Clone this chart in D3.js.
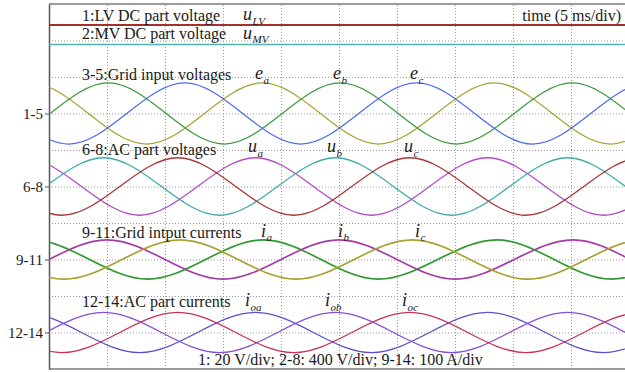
<!DOCTYPE html>
<html>
<head>
<meta charset="utf-8">
<script src="https://cdn.jsdelivr.net/npm/d3@7"></script>
<style>
  body { margin: 0; background: #fff; }
  svg { display: block; font-family: "Liberation Serif", "Times New Roman", serif; }
</style>
</head>
<body>
<div id="chart"></div>
<script>
// scope grid: 10 x 10 divisions, 5 ms/div
const gridTimes = [0, 5, 10, 15, 20, 25, 30, 35, 40, 45, 50];
const gridDivs = [-5, -4, -3, -2, -1, 0, 1, 2, 3, 4, 5];
const groupLabels = ["1-5", "6-8", "9-11", "12-14"];
const groupOffsets = [2, 0, -2, -4]; // channel offset in div

// DC levels
const uLV = 48.5; // V, 20 V/div
const uMV = 755;  // V, 400 V/div

// peaks / troughs: [ms, value]
const e_a = [[-11.6, -335], [-1.6, 335], [8.4, -335], [18.4, 335], [28.4, -335], [38.4, 335], [48.4, -335], [58.4, 335], [68.4, -335]];
const e_b = [[-14.9, 335], [-4.9, -335], [5.1, 335], [15.1, -335], [25.1, 335], [35.1, -335], [45.1, 335], [55.1, -335], [65.1, 335]];
const e_c = [[-18.3, -335], [-8.3, 335], [1.7, -335], [11.7, 335], [21.7, -335], [31.7, 335], [41.7, -335], [51.7, 335], [61.7, -335]];

const u_a = [[-12.2, -315], [-2.2, 315], [7.8, -315], [17.8, 315], [27.8, -315], [37.8, 315], [47.8, -315], [57.8, 315], [67.8, -315]];
const u_b = [[-15.3, 315], [-5.3, -315], [4.7, 315], [14.7, -315], [24.7, 315], [34.7, -315], [44.7, 315], [54.7, -315], [64.7, 315]];
const u_c = [[-18.9, -315], [-8.9, 315], [1.1, -315], [11.1, 315], [21.1, -315], [31.1, 315], [41.1, -315], [51.1, 315], [61.1, -315]];

const i_a = [[-11.5, -54], [-1.5, 54], [8.5, -54], [18.5, 54], [28.4, -54], [38.6, 54], [48.5, -54], [58.5, 54], [68.5, -54]];
const i_b = [[-15, 54], [-5, -54], [5, 54], [15, -54], [25, 54], [35, -54], [45.2, 54], [55, -54], [65, 54]];
const i_c = [[-18.7, -54], [-8.7, 54], [1.3, -54], [11.3, 54], [21.3, -54], [31.3, 54], [41.3, -54], [51.3, 54], [61.3, -54]];

const i_oa = [[-12.2, -55], [-2.2, 55], [7.8, -55], [17.8, 55], [27.8, -55], [37.8, 55], [47.8, -55], [57.8, 55], [67.8, -55]];
const i_ob = [[-15.3, 55], [-5.3, -55], [4.7, 55], [14.7, -55], [24.7, 55], [34.7, -55], [44.7, 55], [54.7, -55], [64.7, 55]];
const i_oc = [[-18.9, -55], [-8.9, 55], [1.1, -55], [11.1, 55], [21.1, -55], [31.1, 55], [41.1, -55], [51.1, 55], [61.1, -55]];

const width = 625, height = 372;
const margin = { left: 49, top: 4 };
const plotW = 580, plotH = 365;

const svg = d3.select("#chart").append("svg")
  .attr("width", width)
  .attr("height", height);

const x = d3.scaleLinear().domain([0, 50]).range([margin.left, margin.left + plotW]);
const y = d3.scaleLinear().domain([-5, 5]).range([margin.top + plotH, margin.top]);

// dotted grid
const grid = svg.append("g").attr("class", "grid");
grid.append("g")
  .attr("transform", "translate(0," + y(-5) + ")")
  .call(d3.axisBottom(x).tickValues(gridTimes.slice(1, -1)).tickSize(-plotH).tickFormat(""));
grid.append("g")
  .attr("transform", "translate(" + x(0) + ",0)")
  .call(d3.axisLeft(y).tickValues(gridDivs.slice(1, -1)).tickSize(-plotW).tickFormat(""));
grid.selectAll(".domain").remove();
grid.selectAll("line")
  .attr("stroke", "#9a9a9a")
  .attr("stroke-width", 1)
  .attr("stroke-dasharray", "1,2");

// frame
svg.append("line").attr("x1", x(0)).attr("x2", x(50)).attr("y1", y(5)).attr("y2", y(5))
  .attr("stroke", "#7a7a7a").attr("stroke-width", 1.5);
svg.append("line").attr("x1", x(0)).attr("x2", x(50)).attr("y1", y(-5)).attr("y2", y(-5))
  .attr("stroke", "#7a7a7a").attr("stroke-width", 1.5);

// channel group ticks on the left
const yAxis = svg.append("g")
  .attr("transform", "translate(" + x(0) + ",0)")
  .call(d3.axisLeft(y).tickValues(groupOffsets).tickSize(4).tickSizeOuter(0)
    .tickFormat((d, i) => groupLabels[i]));
yAxis.select(".domain").attr("stroke", "#555").attr("stroke-width", 1.5);
yAxis.selectAll(".tick line").attr("stroke", "#555");
yAxis.selectAll(".tick text")
  .attr("font-family", "Liberation Serif, serif")
  .attr("font-size", 15)
  .attr("fill", "#1a1a1a")
  .attr("x", -6);

// traces
svg.append("clipPath").attr("id", "clip")
  .append("rect").attr("x", x(0)).attr("y", y(5)).attr("width", plotW).attr("height", plotH);
const traces = svg.append("g").attr("clip-path", "url(#clip)");

const traceList = [
  { data: e_a, perDiv: 400, offset: 2, color: "#a9a333", w: 1.3 },
  { data: e_b, perDiv: 400, offset: 2, color: "#3b9a3b", w: 1.3 },
  { data: e_c, perDiv: 400, offset: 2, color: "#4b6cf2", w: 1.3 },
  { data: u_a, perDiv: 400, offset: 0, color: "#b24bc6", w: 1.3 },
  { data: u_b, perDiv: 400, offset: 0, color: "#3fabab", w: 1.3 },
  { data: u_c, perDiv: 400, offset: 0, color: "#ab3535", w: 1.3 },
  { data: i_a, perDiv: 100, offset: -2, color: "#2f9a2f", w: 1.7 },
  { data: i_b, perDiv: 100, offset: -2, color: "#a83aa8", w: 1.7 },
  { data: i_c, perDiv: 100, offset: -2, color: "#a9a231", w: 1.7 },
  { data: i_oa, perDiv: 100, offset: -4, color: "#5a50d0", w: 1.3 },
  { data: i_ob, perDiv: 100, offset: -4, color: "#8450d6", w: 1.3 },
  { data: i_oc, perDiv: 100, offset: -4, color: "#c8335c", w: 1.3 }
];

traceList.forEach(tr => {
  const line = d3.line()
    .x(d => x(d[0]))
    .y(d => y(d[1] / tr.perDiv + tr.offset))
    .curve(d3.curveMonotoneX);
  traces.append("path")
    .datum(tr.data)
    .attr("fill", "none")
    .attr("stroke", tr.color)
    .attr("stroke-width", tr.w)
    .attr("d", line);
});

// DC channels
traces.append("line")
  .attr("x1", x(0)).attr("x2", x(50))
  .attr("y1", y(uMV / 400 + 2)).attr("y2", y(uMV / 400 + 2))
  .attr("stroke", "#4fb3b3").attr("stroke-width", 1.5);
traces.append("line")
  .attr("x1", x(0)).attr("x2", x(50))
  .attr("y1", y(uLV / 20 + 2)).attr("y2", y(uLV / 20 + 2))
  .attr("stroke", "#a23030").attr("stroke-width", 2);

// annotations
const notes = svg.append("g").attr("fill", "#1a1a1a").attr("font-size", 16);
const captions = [
  ["1:LV DC part voltage", 82, 20.5],
  ["2:MV DC part voltage", 82, 38.5],
  ["3-5:Grid input voltages", 82, 80],
  ["6-8:AC part voltages", 82, 155],
  ["9-11:Grid intput currents", 82, 238],
  ["12-14:AC part currents", 82, 306.5],
  ["1: 20 V/div; 2-8: 400 V/div; 9-14: 100 A/div", 198, 365]
];
captions.forEach(c => notes.append("text").attr("x", c[1]).attr("y", c[2]).text(c[0]));
notes.append("text").attr("x", 621).attr("y", 20.5).attr("text-anchor", "end").text("time (5 ms/div)");

const symbols = [
  ["u", "LV", 243, 20], ["u", "MV", 243, 38.5],
  ["e", "a", 255, 79], ["e", "b", 333, 79], ["e", "c", 410, 79],
  ["u", "a", 248, 152], ["u", "b", 327, 152], ["u", "c", 404, 152],
  ["i", "a", 261, 236.5], ["i", "b", 338, 236.5], ["i", "c", 415, 236.5],
  ["i", "oa", 245, 306], ["i", "ob", 325, 306], ["i", "oc", 402, 306]
];
symbols.forEach(s => {
  const t = notes.append("text").attr("x", s[2]).attr("y", s[3])
    .attr("font-style", "italic").attr("font-size", 18);
  t.append("tspan").text(s[0]);
  t.append("tspan").attr("font-size", 11).attr("dy", 4.5).attr("dx", 0.5).text(s[1]);
});
</script>
</body>
</html>
